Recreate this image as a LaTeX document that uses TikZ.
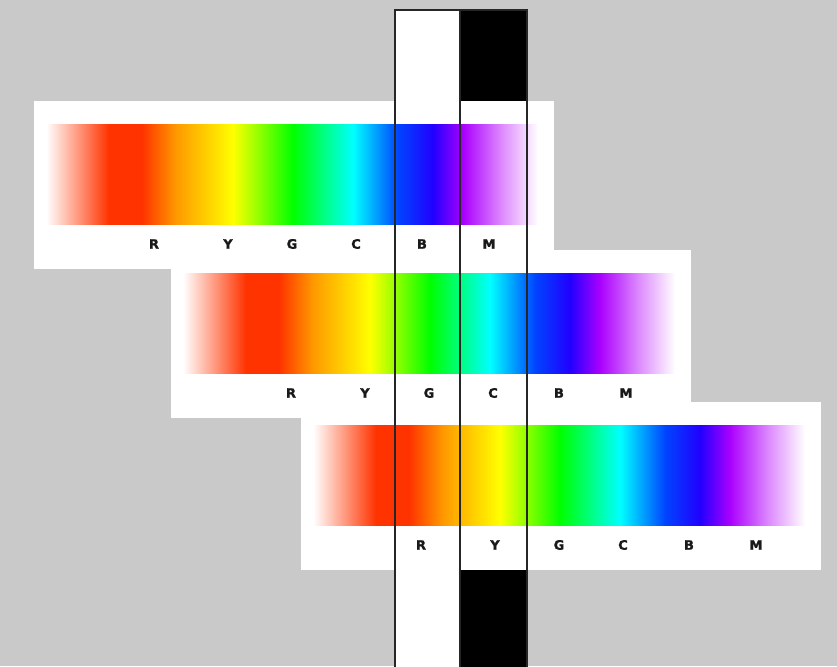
\documentclass[tikz,border=0pt]{standalone}
\usepackage{fontspec}
\newfontfamily\lblfont{DejaVu Sans Bold}[RawFeature={embolden=1.2}]
\definecolor{bggray}{HTML}{C9C9C9}
\definecolor{specred}{HTML}{FF3300}
\definecolor{specorange}{HTML}{FF9900}
\definecolor{specyellow}{HTML}{FFFF00}
\definecolor{specgreen}{HTML}{00FF00}
\definecolor{speccyan}{HTML}{00FFFF}
\definecolor{specblue}{HTML}{0044FF}
\definecolor{specindigo}{HTML}{2200FF}
\definecolor{specviolet}{HTML}{AA00FF}
\definecolor{speclilac}{HTML}{DD88FF}
\pgfdeclarehorizontalshading{spectrum}{100bp}{%
 color(0bp)=(white); color(25bp)=(white);
 color(31.4bp)=(specred); color(34.76bp)=(specred);
 color(38.21bp)=(specorange); color(44bp)=(specyellow);
 color(50.1bp)=(specgreen); color(56.2bp)=(speccyan);
 color(60.77bp)=(specblue); color(64.33bp)=(specindigo);
 color(67.38bp)=(specviolet); color(71.24bp)=(speclilac);
 color(75bp)=(white); color(100bp)=(white)}
\begin{document}
\begin{tikzpicture}[x=1pt,y=-1pt,
  spectxt/.style={font=\lblfont\fontsize{13}{15}\selectfont, text=black!90, inner sep=0pt},
  panelbox/.style={fill=white},
  stripline/.style={draw=black!85, line width=1.4pt}]
\useasboundingbox (0,0) rectangle (837,666);
\clip (0,0) rectangle (837,666);
\fill[bggray] (0,0) rectangle (837,666);
% strips
\fill[white] (395,10) rectangle (460,680);
\fill[black] (460,10) rectangle (527,680);
% panels
\foreach \i/\px/\py/\xr in {1/34/101/154, 2/171/250/291, 3/301/402/421} {
  \fill[panelbox] (\px,\py) rectangle ++(520,168);
  \shade[shading=spectrum] (\xr-108,\py+23) rectangle (\xr+384,\py+123);
  \foreach \l/\d in {R/0,Y/74,G/138,C/202,B/268,M/335}
    \node[spectxt] (p\i\l) at (\xr+\d,\py+143) {\l};
}
% strip outlines
\draw[stripline] (395,10) rectangle (460,680);
\draw[stripline] (460,10) rectangle (527,680);
\end{tikzpicture}
\end{document}
